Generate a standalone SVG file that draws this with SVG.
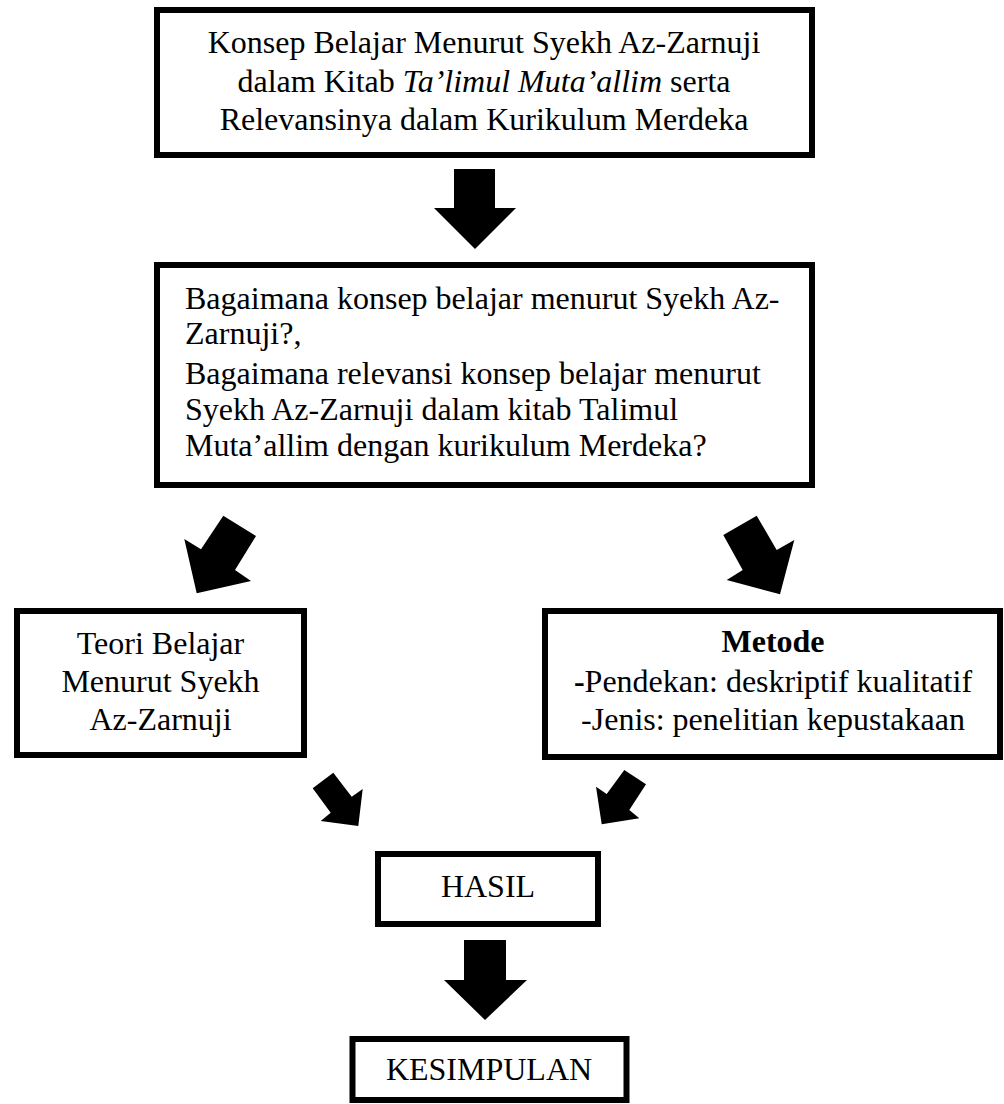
<svg xmlns="http://www.w3.org/2000/svg" width="1004" height="1104" viewBox="0 0 1004 1104">
<style>
.box{fill:#fff;stroke:#000;stroke-width:6}
.t{font-family:"Liberation Serif","Times New Roman",serif;font-size:32px;fill:#000}
.c{text-anchor:middle}
.arr{fill:#000;stroke:none}
</style>
<rect width="1004" height="1104" fill="#fff"/>
<g id="connectors">
<polygon class="arr" points="454,169 495,169 495,208 516,208 475,249 434,208 454,208"/>
<polygon class="arr" points="223.3,515.7 256,536 235,570 251,581 196.7,593.3 184.3,539 201,549.3"/>
<polygon class="arr" points="723.3,535 756.7,515.7 776.7,550 794.3,540 780,594.3 726.7,580 742.7,570"/>
<polygon class="arr" points="312.7,788.3 333.3,772.7 351.7,796.7 362.7,789 358.3,826 320.7,821 330.7,812.7"/>
<polygon class="arr" points="624.3,770 646,784.3 629.3,810 639.3,818.3 601.7,824.3 596,786.7 606.7,794"/>
<polygon class="arr" points="464,940 506,940 506,980 527,980 485,1020 444,980 464,980"/>
</g>
<g id="judul">
<rect class="box" x="157" y="10" width="655" height="145"/>
<text class="t c" x="484" y="53">Konsep Belajar Menurut Syekh Az-Zarnuji</text>
<text class="t c" x="484" y="91.5">dalam Kitab <tspan font-style="italic">Ta’limul Muta’allim</tspan> serta</text>
<text class="t c" x="484" y="130">Relevansinya dalam Kurikulum Merdeka</text>
</g>
<g id="rumusan">
<rect class="box" x="157" y="265" width="655" height="220"/>
<text class="t" x="185" y="309">Bagaimana konsep belajar menurut Syekh Az-</text>
<text class="t" x="185" y="344">Zarnuji?,</text>
<text class="t" x="185" y="384">Bagaimana relevansi konsep belajar menurut</text>
<text class="t" x="185" y="420">Syekh Az-Zarnuji dalam kitab Talimul</text>
<text class="t" x="185" y="456">Muta’allim dengan kurikulum Merdeka?</text>
</g>
<g id="teori">
<rect class="box" x="17" y="611" width="287" height="144"/>
<text class="t c" x="160.5" y="654">Teori Belajar</text>
<text class="t c" x="160.5" y="692">Menurut Syekh</text>
<text class="t c" x="160.5" y="730">Az-Zarnuji</text>
</g>
<g id="metode">
<rect class="box" x="545" y="611" width="455" height="146"/>
<text class="t c" x="773" y="652" font-weight="bold">Metode</text>
<text class="t c" x="773" y="692"><tspan font-weight="bold">-</tspan>Pendekan: deskriptif kualitatif</text>
<text class="t c" x="773" y="730">-Jenis: penelitian kepustakaan</text>
</g>
<g id="hasil">
<rect class="box" x="378" y="854" width="220" height="70"/>
<text class="t c" x="488" y="897">HASIL</text>
</g>
<g id="kesimpulan">
<rect class="box" x="352.5" y="1039" width="274" height="61"/>
<text class="t c" x="489" y="1080">KESIMPULAN</text>
</g>
</svg>
